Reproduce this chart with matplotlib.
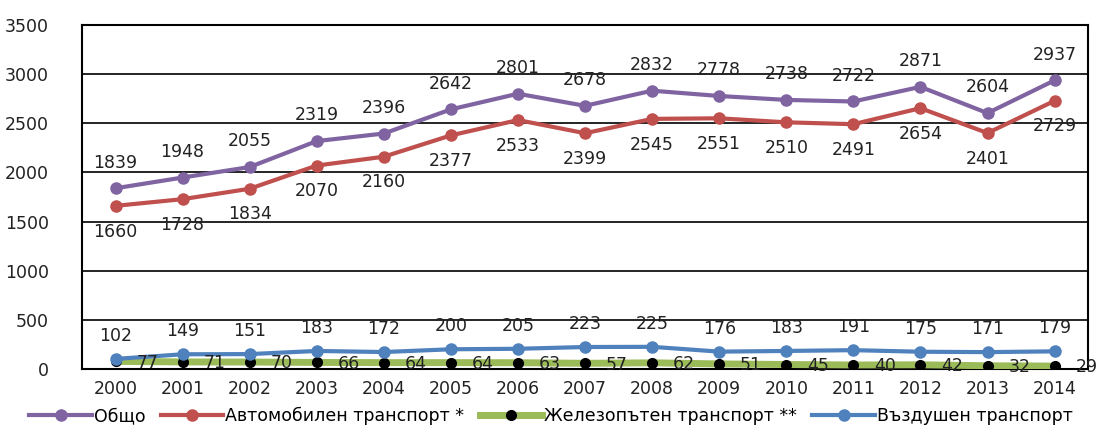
import numpy as np
import matplotlib.pyplot as plt

years = [str(y) for y in range(2000, 2015)]
total = [1839, 1948, 2055, 2319, 2396, 2642, 2801, 2678, 2832, 2778, 2738, 2722, 2871, 2604, 2937]
road = [1660, 1728, 1834, 2070, 2160, 2377, 2533, 2399, 2545, 2551, 2510, 2491, 2654, 2401, 2729]
rail = [77, 71, 70, 66, 64, 64, 63, 57, 62, 51, 45, 40, 42, 32, 29]
air = [102, 149, 151, 183, 172, 200, 205, 223, 225, 176, 183, 191, 175, 171, 179]

names = ['Общо', 'Автомобилен транспорт *', 'Железопътен транспорт **', 'Въздушен транспорт']

fig = plt.figure(figsize=(11.02, 4.32), dpi=100)
ax = fig.add_axes([0.0744, 0.146, 0.913, 0.796])

x = np.arange(len(years))
fs = 12.5

ax.plot(x, total, '-o', color='#8064A2', lw=3, ms=8, label=names[0], zorder=4)
ax.plot(x, road, '-o', color='#C0504D', lw=3, ms=8, label=names[1], zorder=4)
ax.plot(x, rail, '-o', color='#9BBB59', lw=5, ms=7, mfc='black', mec='black',
        label=names[2], zorder=3)
ax.plot(x, air, '-o', color='#4F81BD', lw=3, ms=8, label=names[3], zorder=4)

for i in range(len(x)):
    ax.annotate(str(total[i]), (x[i], total[i]), xytext=(0, 12), textcoords='offset points',
                ha='center', va='bottom', fontsize=fs, color='#222222')
    ax.annotate(str(road[i]), (x[i], road[i]), xytext=(0, -12), textcoords='offset points',
                ha='center', va='top', fontsize=fs, color='#222222')
    ax.annotate(str(rail[i]), (x[i], rail[i]), xytext=(15, -1), textcoords='offset points',
                ha='left', va='center', fontsize=fs, color='#222222', zorder=5)
    ax.annotate(str(air[i]), (x[i], air[i]), xytext=(0, 10), textcoords='offset points',
                ha='center', va='bottom', fontsize=fs, color='#222222')

ax.set_xlim(-0.5, len(x) - 0.5)
ax.set_ylim(0, 3500)
ax.set_yticks(range(0, 3501, 500))
ax.set_xticks(x)
ax.set_xticklabels(years, fontsize=fs, color='#222222')
ax.tick_params(axis='y', labelsize=fs, labelcolor='#222222', length=0, pad=24)
ax.tick_params(axis='x', length=0, pad=8)
ax.grid(axis='y', color='black', lw=1.2)
for s in ax.spines.values():
    s.set_color('black')
    s.set_linewidth(1.5)

fig.legend(loc='lower center', bbox_to_anchor=(0.5, -0.02), ncol=4, frameon=False,
           fontsize=fs, handlelength=3.6, handletextpad=0.1, columnspacing=0.9)

fig.savefig('out.png', dpi=100)
